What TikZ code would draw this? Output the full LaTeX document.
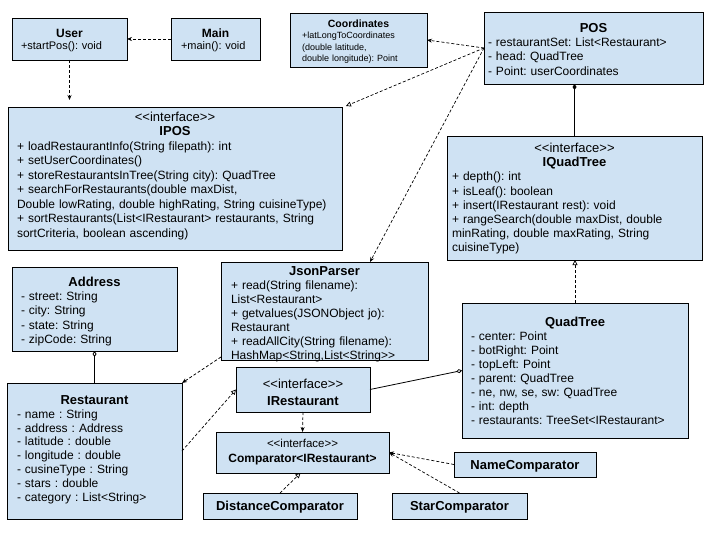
\documentclass[tikz,border=0pt]{standalone}
\usepackage{fontspec}
\setmainfont{Liberation Sans}
\usepackage{xcolor}
\usepackage{tikz}
\usetikzlibrary{
  positioning, arrows.meta, calc
}
\definecolor{umlblue}{HTML}{CFE2F3}
\definecolor{umlline}{HTML}{000000}
\frenchspacing

\newcommand{\ttl}[2][13]{\centerline{\fontsize{#1}{#1}\selectfont\bfseries #2}\par}
\newcommand{\stereo}[1][13]{\centerline{\fontsize{#1}{#1}\selectfont <{}<interface>{}>}\par}

\begin{document}
\begin{tikzpicture}[x=1pt, y=-1pt,
  cls/.style={
    rectangle, draw=umlline, fill=umlblue, line width=0.8pt,
    anchor=north west, inner ysep=0pt, outer sep=0pt,
    align=left, font=\fontsize{12}{14.2}\selectfont
  },
  cen/.style={cls, align=center},
  dep/.style={-{Stealth[length=5pt, width=4pt]}, line width=0.7pt, dash pattern=on 3pt off 2pt},
  real/.style={-{Triangle[open, length=5pt, width=5pt]}, line width=0.7pt, dash pattern=on 3pt off 2pt},
  compo/.style={{Diamond[length=6pt, width=4pt]}-, line width=0.8pt},
  aggr/.style={{Diamond[open, length=6pt, width=4pt]}-, line width=0.8pt},
]
\useasboundingbox[fill=white] (0,0) rectangle (720,540);

% Top row
\node[cls, text width=97pt, inner xsep=9pt, text height=19.5pt, text depth=22.5pt,
  font=\fontsize{11}{12.5}\selectfont] (user) at (12,18)
  {\ttl[12]{User} +startPos(): void};
\node[cls, text width=69pt, inner xsep=10pt, text height=19.5pt, text depth=22.5pt,
  font=\fontsize{11}{12.5}\selectfont] (main) at (171,18)
  {\ttl[12]{Main} +main(): void};
\node[cls, text width=113pt, inner xsep=12pt, text height=14.5pt, text depth=39.5pt,
  font=\fontsize{9}{11.5}\selectfont] (coords) at (290,13)
  {\ttl[10.5]{Coordinates} +latLongToCoordinates\\(double latitude,\\double longitude): Point};
\node[cls, text width=211pt, inner xsep=4pt, text height=20.5pt, text depth=51.5pt] (pos) at (484,12)
  {\ttl{POS} - restaurantSet: List<Restaurant>\\- head: QuadTree\\- Point: userCoordinates};

% Interfaces
\node[cls, text width=316pt, inner xsep=9pt, text height=14.5pt, text depth=128.5pt,
  font=\fontsize{12}{14.5}\selectfont] (ipos) at (8,107)
  {\stereo\ttl{IPOS} + loadRestaurantInfo(String filepath): int\\
   + setUserCoordinates()\\
   + storeRestaurantsInTree(String city): QuadTree\\
   + searchForRestaurants(double maxDist,\\
   Double lowRating, double highRating, String cuisineType)\\
   + sortRestaurants(List<IRestaurant> restaurants, String\\
   sortCriteria, boolean ascending)};
\node[cls, text width=245pt, inner xsep=5pt, text height=16.5pt, text depth=107.5pt] (iquad) at (447,136)
  {\stereo\ttl{IQuadTree} + depth(): int\\
   + isLeaf(): boolean\\
   + insert(IRestaurant rest): void\\
   + rangeSearch(double maxDist, double\\
   minRating, double maxRating, String\\
   cuisineType)};

% Middle row
\node[cls, text width=147pt, inner xsep=9pt, text height=19.5pt, text depth=64.5pt] (address) at (12,267)
  {\ttl{Address} - street: String\\- city: String\\- state: String\\- zipCode: String};
\node[cls, text width=187pt, inner xsep=10pt, text height=13.5pt, text depth=84.5pt,
  font=\fontsize{12}{14}\selectfont] (json) at (221,262)
  {\ttl{JsonParser} + read(String filename):\\
   List<Restaurant>\\
   + getvalues(JSONObject jo):\\
   Restaurant\\
   + readAllCity(String filename):\\
   HashMap<String,List<String>{}>};
\node[cls, text width=208pt, inner xsep=9pt, text height=23.5pt, text depth=111.5pt,
  font=\fontsize{12}{14}\selectfont] (quad) at (462,303)
  {\ttl{QuadTree} - center: Point\\
   - botRight: Point\\
   - topLeft: Point\\
   - parent: QuadTree\\
   - ne, nw, se, sw: QuadTree\\
   - int: depth\\
   - restaurants: TreeSet<IRestaurant>};

% Bottom row
\node[cls, text width=155pt, inner xsep=10pt, text height=21.5pt, text depth=114.5pt,
  font=\fontsize{12}{13.8}\selectfont] (restaurant) at (7,383)
  {\ttl{Restaurant} - name : String\\
   - address : Address\\
   - latitude : double\\
   - longitude : double\\
   - cusineType : String\\
   - stars : double\\
   - category : List<String>};
\node[cen, text width=126pt, inner xsep=4pt, text height=21.5pt, text depth=23.5pt,
  font=\fontsize{13}{17}\selectfont] (irest) at (236,367)
  {<{}<interface>{}>\\\textbf{IRestaurant}};
\node[cen, text width=165pt, inner xsep=4pt, text height=15pt, text depth=26pt,
  font=\fontsize{11.5}{15.5}\selectfont] (comp) at (216,432)
  {<{}<interface>{}>\\{\fontsize{12}{15.5}\selectfont\bfseries Comparator<IRestaurant>}};
\node[cen, text width=146pt, inner xsep=4pt, text height=17.5pt, text depth=8.5pt,
  font=\fontsize{13}{15}\selectfont\bfseries] (dist) at (203,493) {DistanceComparator};
\node[cen, text width=134pt, inner xsep=4pt, text height=17pt, text depth=8pt,
  font=\fontsize{13}{15}\selectfont\bfseries] (name) at (454,452) {NameComparator};
\node[cen, text width=127pt, inner xsep=4pt, text height=17.5pt, text depth=8.5pt,
  font=\fontsize{13}{15}\selectfont\bfseries] (star) at (392,493) {StarComparator};

% Dependencies
\draw[dep] (main) -- (user);
\draw[dep, shorten >=7pt] (user.south) -- (user.south |- ipos.north);
\draw[dep] (pos.west) -- (coords.east);
\draw[real] (pos.west) -- ([xshift=4pt, yshift=1pt]ipos.north east);
\draw[dep] (pos.west) -- ([xshift=-58pt]json.north east);
\draw[dep] ([yshift=3pt]json.south west) -- (restaurant.north east);
\draw[dep] (irest.south) -- (comp.north);
\draw[dep] (name.west) -- (comp.east);
\draw[dep] (star.north) -- (comp.east);

% Realizations
\draw[real] (quad.north) -- (quad.north |- iquad.south);
\draw[real] (restaurant.east) -- (irest.west);
\draw[real] (dist.north) -- ([xshift=-2pt]comp.south);

% Composition / aggregation
\draw[compo] (iquad.north |- pos.south) -- (iquad.north);
\draw[aggr] (address.south) -- (restaurant.north);
\draw[aggr] (quad.west) -- (irest.east);
\end{tikzpicture}
\end{document}
